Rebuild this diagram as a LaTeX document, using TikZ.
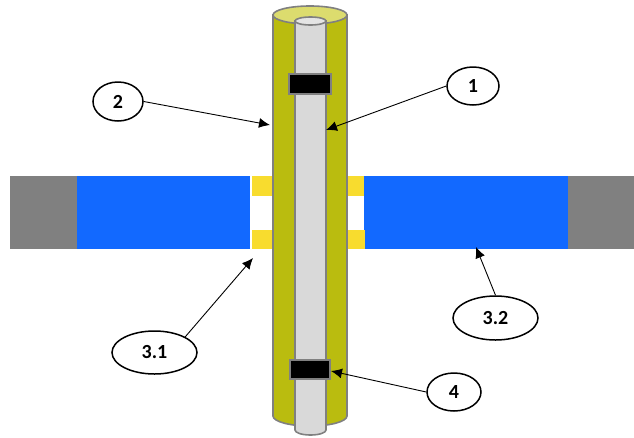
\documentclass[tikz,border=0pt]{standalone}
\usepackage{fontspec}
\setmainfont{Carlito}
\usepackage{tikz}
\usetikzlibrary{shapes.geometric,arrows.meta}
\definecolor{wallblue}{HTML}{1269FF}
\definecolor{wallgray}{HTML}{808080}
\definecolor{gapyellow}{HTML}{F8DC2E}
\definecolor{pipeolive}{HTML}{BABC0F}
\definecolor{pipetop}{HTML}{DCDC6E}
\definecolor{rodgray}{HTML}{D9D9D9}
\tikzset{
	callout/.style={draw,ellipse,line width=1.5pt,inner sep=0pt,font=\bfseries\fontsize{20}{20}\selectfont},
	leader/.style={-{Latex[length=11pt,width=10pt]},line width=0.9pt},
	pipeline/.style={draw=wallgray,line width=1.6pt}
}
\begin{document}
\begin{tikzpicture}[x=1pt,y=-1pt]
	\useasboundingbox (0,0) rectangle (634,437);
	\fill[wallgray] (10,176) rectangle (77,249);
	\fill[wallgray] (568,176) rectangle (634,249);
	\fill[wallblue] (77,176) rectangle (250,249);
	\fill[wallblue] (364,176) rectangle (568,249);
	\fill[gapyellow] (252,176) rectangle (273,196);
	\fill[gapyellow] (252,230) rectangle (273,249);
	\fill[gapyellow] (347,176) rectangle (364,196);
	\fill[gapyellow] (347,230) rectangle (365,249);
	% outer tube
	\draw[pipeline,fill=pipeolive] (273,15) -- (273,416) arc[start angle=180,end angle=0,x radius=37,y radius=10] -- (347,15) -- cycle;
	\draw[pipeline,fill=pipetop] (310,15) ellipse[x radius=37,y radius=9];
	% inner rod
	\draw[pipeline,fill=rodgray] (295,21) -- (295,430) arc[start angle=180,end angle=0,x radius=15.5,y radius=5] -- (326,21) -- cycle;
	\draw[pipeline,fill=rodgray!70!white] (310.5,21) ellipse[x radius=15.5,y radius=4];
	% clamps
	\draw[pipeline,fill=black] (289,74) rectangle (331,94);
	\draw[pipeline,fill=black] (290,360) rectangle (330,379);
	% labels
	\node[callout,minimum width=50pt,minimum height=39pt] (two) at (118,101.5) {2};
	\node[callout,minimum width=52pt,minimum height=38pt] (one) at (473,86) {1};
	\node[callout,minimum width=85pt,minimum height=43pt] (threeA) at (154.5,352.5) {3.1};
	\node[callout,minimum width=85pt,minimum height=44pt] (threeB) at (495.5,318) {3.2};
	\node[callout,minimum width=54pt,minimum height=38pt] (four) at (454,392) {4};
	\coordinate (twoEnd) at (270,125);
	\coordinate (oneEnd) at (326,130);
	\coordinate (threeAEnd) at (253,258);
	\coordinate (threeBEnd) at (476,247);
	\coordinate (fourEnd) at (331,371);
	\draw[leader] (two.east) -- (twoEnd);
	\draw[leader] (one.west) -- (oneEnd);
	\draw[leader] (threeA.27) -- (threeAEnd);
	\draw[leader] (threeB.north) -- (threeBEnd);
	\draw[leader] (four.west) -- (fourEnd);
\end{tikzpicture}
\end{document}
